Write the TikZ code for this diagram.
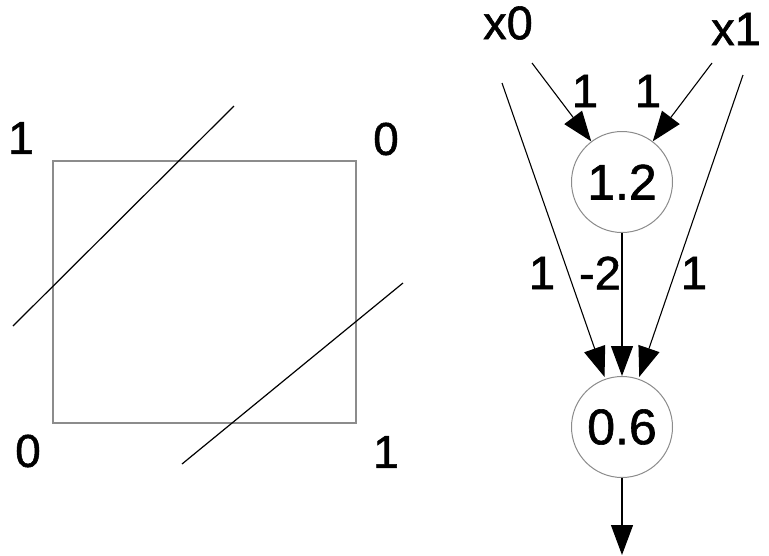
\documentclass[tikz,border=0pt]{standalone}
\usepackage{fontspec}
\setmainfont{Liberation Sans}[FakeBold=1.2]
\usetikzlibrary{arrows.meta}
\definecolor{Frame}{HTML}{8C8C8C}
\tikzset{
  >={Triangle[length=30pt,width=22pt]},
  unit/.style={circle,draw=Frame,line width=1pt,fill=white,minimum size=101pt,inner sep=0pt,font=\fontsize{50}{50}\selectfont},
  inp/.style={inner sep=0pt,font=\fontsize{47}{47}\selectfont},
  wlab/.style={inner sep=0pt,font=\fontsize{47}{47}\selectfont},
  corner/.style={inner sep=0pt,font=\fontsize{46}{46}\selectfont},
  conn/.style={->,line width=1.1pt,draw=black},
  cut/.style={line width=1.2pt,draw=black},
  box/.style={draw=Frame,line width=1.2pt}
}

\begin{document}
\begin{tikzpicture}[x=1pt,y=-1pt]
  \useasboundingbox (0,0) rectangle (769,555);
  % left: the square with its corner values and the two cuts
  \draw[box] (53,161) rectangle (356,423);
  \node[corner] (ctl) at (21,138) {1};
  \node[corner] (ctr) at (386,139) {0};
  \node[corner] (cbl) at (28,451) {0};
  \node[corner] (cbr) at (386,452) {1};
  \draw[cut] (13,326) -- (234,106);
  \draw[cut] (182,464) -- (403,283);
  % right: the small net
  \node[inp] (x0) at (508,23) {x0};
  \node[inp] (x1) at (736,29) {x1};
  \node[unit] (h) at (622,182) {1.2};
  \node[unit] (o) at (622,427) {0.6};
  \coordinate (x0a) at (532,63);
  \coordinate (x0b) at (502,83);
  \coordinate (x1a) at (712,63);
  \coordinate (x1b) at (743,75);
  \coordinate (out) at (622,555);
  \draw[conn] (x0a) -- (h);
  \draw[conn] (x1a) -- (h);
  \draw[conn,shorten >=2pt] (x0b) -- (o);
  \draw[conn,shorten >=2pt] (x1b) -- (o);
  \draw[conn] (h) -- (o);
  \draw[conn] (o) -- (out);
  \node[wlab] (w0h) at (585,91) {1};
  \node[wlab] (w1h) at (648,91) {1};
  \node[wlab] (w0o) at (542,273) {1};
  \node[wlab] (who) at (600,273) {-2};
  \node[wlab] (w1o) at (694,273) {1};
\end{tikzpicture}
\end{document}
